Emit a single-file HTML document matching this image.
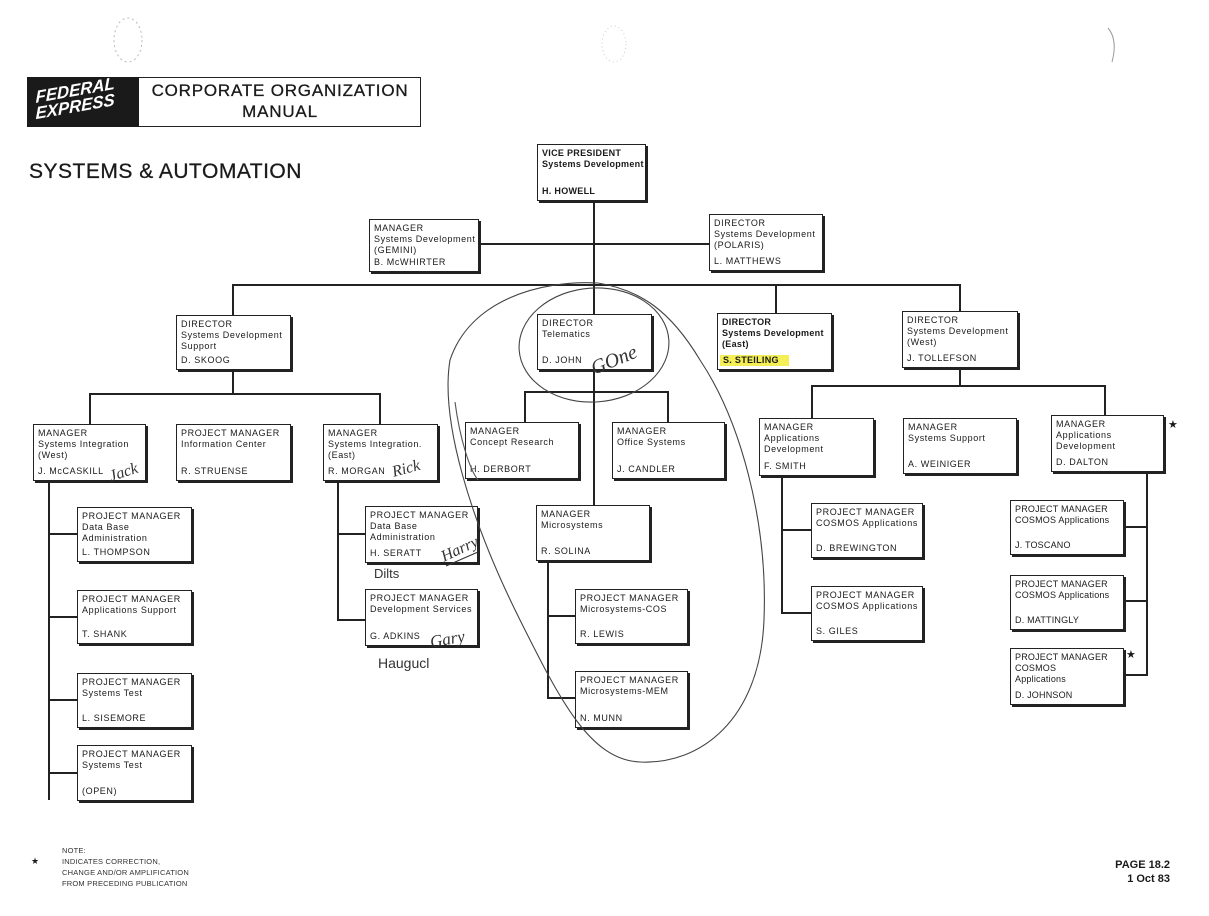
<!DOCTYPE html>
<html><head><meta charset="utf-8"><style>
html,body{margin:0;padding:0;background:#fff;}
body{width:1209px;height:916px;position:relative;overflow:hidden;font-family:"Liberation Sans",Arial,sans-serif;color:#1a1a1a;}
.b{position:absolute;border:1.5px solid #222;box-shadow:2px 2px 0 #222;background:#fff;font-size:9px;letter-spacing:.6px;line-height:11px;box-sizing:border-box;padding:3px 0 0 4px;}
.b .n{position:absolute;left:4px;bottom:3px;}
.l{position:absolute;background:#222;}
.h{height:2px}.v{width:2px}
</style></head><body>
<svg width="1209" height="916" style="position:absolute;left:0;top:0" fill="none">
<ellipse cx="128" cy="40" rx="14" ry="22" stroke="#bbb" stroke-dasharray="2 3"/>
<ellipse cx="614" cy="44" rx="12" ry="18" stroke="#ccc" stroke-dasharray="1 3"/>
<path d="M1108 28 Q1118 40 1112 62" stroke="#999"/>
</svg>
<!-- header -->
<div style="position:absolute;left:27px;top:77px;width:394px;height:50px;border:1.5px solid #222;box-sizing:border-box"></div>
<div style="position:absolute;left:27px;top:77px;width:112px;height:50px;background:#1a1a1a;overflow:hidden">
<div style="position:absolute;left:8px;top:6px;color:#fff;font-weight:bold;font-style:italic;font-size:17px;line-height:16px;transform:rotate(-10deg) skewX(-10deg)">FEDERAL<br>EXPRESS</div></div>
<div style="position:absolute;left:139px;top:80px;width:282px;text-align:center;font-size:17px;letter-spacing:.8px;line-height:21px;-webkit-text-stroke:.3px #1a1a1a">CORPORATE ORGANIZATION<br>MANUAL</div>
<div style="position:absolute;left:29px;top:160px;font-size:21px;letter-spacing:.5px;-webkit-text-stroke:.3px #1a1a1a">SYSTEMS &amp; AUTOMATION</div>

<!-- lines -->
<div class="l v" style="left:593px;top:200px;height:306px"></div>
<div class="l h" style="left:478px;top:243px;width:232px"></div>
<div class="l h" style="left:233px;top:284px;width:728px"></div>
<div class="l v" style="left:232px;top:284px;height:110px"></div>
<div class="l v" style="left:775px;top:284px;height:30px"></div>
<div class="l v" style="left:959px;top:284px;height:102px"></div>
<div class="l h" style="left:89px;top:393px;width:292px"></div>
<div class="l v" style="left:89px;top:393px;height:32px"></div>
<div class="l v" style="left:379px;top:393px;height:32px"></div>
<div class="l h" style="left:524px;top:391px;width:145px"></div>
<div class="l v" style="left:524px;top:391px;height:32px"></div>
<div class="l v" style="left:667px;top:391px;height:32px"></div>
<div class="l h" style="left:811px;top:385px;width:295px"></div>
<div class="l v" style="left:811px;top:385px;height:34px"></div>
<div class="l v" style="left:1104px;top:385px;height:31px"></div>
<!-- left col -->
<div class="l v" style="left:48px;top:480px;height:320px"></div>
<div class="l h" style="left:48px;top:533px;width:30px"></div>
<div class="l h" style="left:48px;top:616px;width:30px"></div>
<div class="l h" style="left:48px;top:699px;width:30px"></div>
<div class="l h" style="left:48px;top:772px;width:30px"></div>
<div class="l v" style="left:337px;top:480px;height:141px"></div>
<div class="l h" style="left:337px;top:533px;width:29px"></div>
<div class="l h" style="left:337px;top:619px;width:29px"></div>
<div class="l v" style="left:547px;top:560px;height:139px"></div>
<div class="l h" style="left:547px;top:615px;width:29px"></div>
<div class="l h" style="left:547px;top:697px;width:29px"></div>
<div class="l v" style="left:781px;top:476px;height:138px"></div>
<div class="l h" style="left:781px;top:529px;width:31px"></div>
<div class="l h" style="left:781px;top:612px;width:31px"></div>
<div class="l v" style="left:1146px;top:471px;height:205px"></div>
<div class="l h" style="left:1122px;top:526px;width:25px"></div>
<div class="l h" style="left:1122px;top:600px;width:25px"></div>
<div class="l h" style="left:1122px;top:674px;width:25px"></div>

<!-- boxes -->
<div class="b" style="left:537px;top:144px;width:109px;height:57px;font-weight:bold;letter-spacing:.3px">VICE PRESIDENT<br>Systems Development<div class="n">H. HOWELL</div></div>
<div class="b" style="left:369px;top:219px;width:110px;height:53px">MANAGER<br>Systems Development<br>(GEMINI)<div class="n">B. McWHIRTER</div></div>
<div class="b" style="left:709px;top:214px;width:114px;height:57px">DIRECTOR<br>Systems Development<br>(POLARIS)<div class="n">L. MATTHEWS</div></div>
<div class="b" style="left:176px;top:315px;width:115px;height:55px">DIRECTOR<br>Systems Development<br>Support<div class="n">D. SKOOG</div></div>
<div class="b" style="left:537px;top:314px;width:115px;height:56px">DIRECTOR<br>Telematics<div class="n">D. JOHN</div></div>
<div class="b" style="left:717px;top:313px;width:115px;height:57px;font-weight:bold;letter-spacing:.3px">DIRECTOR<br>Systems Development<br>(East)<div class="n" style="background:#f4ef55;padding:0 10px 0 3px;left:2px">S. STEILING</div></div>
<div class="b" style="left:902px;top:311px;width:116px;height:57px">DIRECTOR<br>Systems Development<br>(West)<div class="n">J. TOLLEFSON</div></div>

<div class="b" style="left:33px;top:424px;width:113px;height:57px">MANAGER<br>Systems Integration<br>(West)<div class="n">J. McCASKILL</div></div>
<div class="b" style="left:176px;top:424px;width:115px;height:57px">PROJECT MANAGER<br>Information Center<div class="n">R. STRUENSE</div></div>
<div class="b" style="left:323px;top:424px;width:115px;height:57px">MANAGER<br>Systems Integration.<br>(East)<div class="n">R. MORGAN</div></div>
<div class="b" style="left:465px;top:422px;width:114px;height:57px">MANAGER<br>Concept Research<div class="n">H. DERBORT</div></div>
<div class="b" style="left:612px;top:422px;width:113px;height:57px">MANAGER<br>Office Systems<div class="n">J. CANDLER</div></div>
<div class="b" style="left:759px;top:418px;width:115px;height:58px">MANAGER<br>Applications<br>Development<div class="n">F. SMITH</div></div>
<div class="b" style="left:903px;top:418px;width:114px;height:56px">MANAGER<br>Systems Support<div class="n">A. WEINIGER</div></div>
<div class="b" style="left:1051px;top:415px;width:113px;height:57px">MANAGER<br>Applications<br>Development<div class="n">D. DALTON</div></div>

<div class="b" style="left:77px;top:507px;width:115px;height:55px">PROJECT MANAGER<br>Data Base<br>Administration<div class="n">L. THOMPSON</div></div>
<div class="b" style="left:77px;top:590px;width:115px;height:54px">PROJECT MANAGER<br>Applications Support<div class="n">T. SHANK</div></div>
<div class="b" style="left:77px;top:673px;width:115px;height:55px">PROJECT MANAGER<br>Systems Test<div class="n">L. SISEMORE</div></div>
<div class="b" style="left:77px;top:745px;width:115px;height:56px">PROJECT MANAGER<br>Systems Test<div class="n">(OPEN)</div></div>
<div class="b" style="left:365px;top:506px;width:113px;height:57px">PROJECT MANAGER<br>Data Base<br>Administration<div class="n">H. SERATT</div></div>
<div class="b" style="left:365px;top:589px;width:113px;height:57px">PROJECT MANAGER<br>Development Services<div class="n">G. ADKINS</div></div>
<div class="b" style="left:536px;top:505px;width:114px;height:56px">MANAGER<br>Microsystems<div class="n">R. SOLINA</div></div>
<div class="b" style="left:575px;top:589px;width:113px;height:55px">PROJECT MANAGER<br>Microsystems-COS<div class="n">R. LEWIS</div></div>
<div class="b" style="left:575px;top:671px;width:113px;height:57px">PROJECT MANAGER<br>Microsystems-MEM<div class="n">N. MUNN</div></div>
<div class="b" style="left:811px;top:503px;width:112px;height:55px">PROJECT MANAGER<br>COSMOS Applications<div class="n">D. BREWINGTON</div></div>
<div class="b" style="left:811px;top:586px;width:112px;height:55px">PROJECT MANAGER<br>COSMOS Applications<div class="n">S. GILES</div></div>
<div class="b" style="left:1010px;top:500px;width:114px;height:55px;letter-spacing:.2px">PROJECT MANAGER<br>COSMOS Applications<div class="n">J. TOSCANO</div></div>
<div class="b" style="left:1010px;top:575px;width:114px;height:55px;letter-spacing:.2px">PROJECT MANAGER<br>COSMOS Applications<div class="n">D. MATTINGLY</div></div>
<div class="b" style="left:1010px;top:648px;width:114px;height:57px;letter-spacing:.2px">PROJECT MANAGER<br>COSMOS<br>Applications<div class="n">D. JOHNSON</div></div>

<div style="position:absolute;left:1168px;top:418px;font-size:11px">★</div>
<div style="position:absolute;left:1126px;top:648px;font-size:11px">★</div>

<!-- handwriting -->
<svg width="1209" height="916" style="position:absolute;left:0;top:0" fill="none" stroke="#333" stroke-width="1.1">
<ellipse cx="594" cy="345" rx="75" ry="57" stroke="#444" transform="rotate(-4 594 345)"/>
<path d="M598 283 C540 280 470 300 450 360 C440 420 470 520 520 620 C560 700 590 760 640 762 C700 765 760 720 764 620 C768 520 740 420 700 360 C670 310 640 290 598 283" stroke="#444"/>
<path d="M455 402 C460 440 470 470 478 480" stroke="#555"/>
<text x="590" y="367" font-family="Liberation Serif,serif" font-style="italic" font-size="20" fill="#333" stroke="none" transform="rotate(-22 612 360)">GOne</text>
<text x="108" y="478" font-family="Liberation Serif,serif" font-style="italic" font-size="16" fill="#333" stroke="none" transform="rotate(-18 120 470)">Jack</text>
<text x="392" y="475" font-family="Liberation Serif,serif" font-style="italic" font-size="16" fill="#333" stroke="none" transform="rotate(-15 400 470)">Rick</text>
<text x="440" y="556" font-family="Liberation Serif,serif" font-style="italic" font-size="16" fill="#333" stroke="none" transform="rotate(-25 455 550)">Harry</text>
<path d="M446 566 L478 552"/>
<text x="374" y="578" font-family="Liberation Sans,sans-serif" font-size="13" fill="#333" stroke="none">Dilts</text>
<text x="430" y="645" font-family="Liberation Serif,serif" font-style="italic" font-size="17" fill="#333" stroke="none" transform="rotate(-10 445 640)">Gary</text>
<text x="378" y="668" font-family="Liberation Sans,sans-serif" font-size="14" fill="#333" stroke="none">Haugucl</text>
</svg>

<!-- footer -->
<div style="position:absolute;left:62px;top:845px;font-size:7.5px;line-height:11px;letter-spacing:.2px;color:#333">NOTE:<br>INDICATES CORRECTION,<br>CHANGE AND/OR AMPLIFICATION<br>FROM PRECEDING PUBLICATION</div>
<div style="position:absolute;left:31px;top:856px;font-size:9px">★</div>
<div style="position:absolute;left:1100px;top:858px;width:70px;text-align:right;font-size:11px;font-weight:bold;line-height:14px">PAGE 18.2<br>1 Oct 83</div>
</body></html>
